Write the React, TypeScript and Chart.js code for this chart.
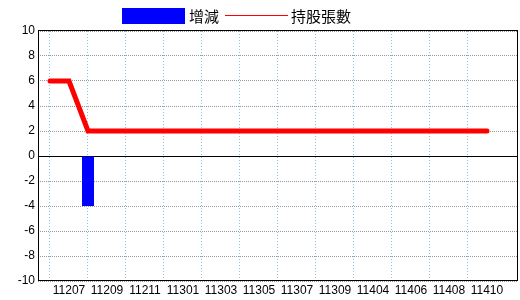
import { useEffect, useRef } from 'react';
import { Chart, registerables } from 'chart.js';

Chart.register(...registerables);

const months = [
  '11206', '11207', '11208', '11209', '11210', '11211', '11212',
  '11301', '11302', '11303', '11304', '11305', '11306', '11307', '11308', '11309', '11310',
  '11404', '11405', '11406', '11407', '11408', '11409', '11410',
];
const holdings = [6, 6, 2, 2, 2, 2, 2, 2, 2, 2, 2, 2, 2, 2, 2, 2, 2, 2, 2, 2, 2, 2, 2, 2];
const changes = [0, 0, -4, 0, 0, 0, 0, 0, 0, 0, 0, 0, 0, 0, 0, 0, 0, 0, 0, 0, 0, 0, 0, 0];
const seriesLabels = ['增減', '持股張數'];
const seriesColors = ['#0000ff', '#ff0000'];
const yMin = -10;
const yMax = 10;
const yStep = 2;

export default function App() {
  const ref = useRef<HTMLCanvasElement>(null);

  useEffect(() => {
    document.body.style.margin = '0';
    const canvas = ref.current;
    if (!canvas) return;

    const framePlugin = {
      id: 'frame',
      beforeDatasetsDraw(chart: any) {
        const { ctx, chartArea: a } = chart;
        ctx.save();
        ctx.strokeStyle = '#000';
        ctx.lineWidth = 1;
        ctx.setLineDash([]);
        ctx.strokeRect(
          Math.floor(a.left) + 0.5,
          Math.floor(a.top) - 0.5,
          Math.round(a.right - a.left),
          Math.round(a.bottom - a.top)
        );
        ctx.restore();
      },
    };

    const legendPlugin = {
      id: 'simpleLegend',
      afterDraw(chart: any) {
        const { ctx } = chart;
        ctx.save();
        ctx.setLineDash([]);
        ctx.globalAlpha = 1;
        ctx.font = '15px "Noto Sans CJK TC", sans-serif';
        ctx.textBaseline = 'middle';
        ctx.textAlign = 'left';
        const symW = 63;
        const w0 = ctx.measureText(seriesLabels[0]).width;
        const w1 = ctx.measureText(seriesLabels[1]).width;
        const total = symW + 4 + w0 + 6 + symW + 3 + w1;
        let x = Math.round(237 - total / 2);
        const cy = 16;
        ctx.fillStyle = seriesColors[0];
        ctx.fillRect(x, 8, symW, 16);
        x += symW + 4;
        ctx.fillStyle = '#000000';
        ctx.fillText(seriesLabels[0], x, cy);
        x = Math.round(x + w0 + 6);
        ctx.fillStyle = seriesColors[1];
        ctx.fillRect(x, 15, symW, 1);
        x += symW + 3;
        ctx.fillStyle = '#000000';
        ctx.fillText(seriesLabels[1], x, cy);
        ctx.restore();
      },
    };

    const chart = new Chart(canvas, {
      type: 'bar',
      data: {
        datasets: [
          {
            type: 'bar',
            label: seriesLabels[0],
            data: changes.map((v, i) => ({ x: i, y: v })),
            backgroundColor: seriesColors[0],
            borderColor: seriesColors[0],
            borderWidth: 0,
            inflateAmount: 0,
            barThickness: 12,
          } as any,
          {
            type: 'line',
            label: seriesLabels[1],
            data: holdings.map((v, i) => ({ x: i, y: v })),
            borderColor: seriesColors[1],
            backgroundColor: seriesColors[1],
            borderWidth: 5,
            pointRadius: 0,
            tension: 0,
            borderCapStyle: 'round',
            fill: false,
          } as any,
        ],
      },
      options: {
        responsive: false,
        animation: false,
        events: [],
        layout: { padding: { top: 31, right: 3, bottom: 0, left: 0 } },
        plugins: {
          tooltip: { enabled: false },
          legend: { display: false },
        },
        scales: {
          x: {
            type: 'linear',
            offset: false,
            min: -0.6316,
            max: 24.58,
            afterBuildTicks: (scale: any) => {
              scale.ticks = months.map((_, i) => ({ value: i }));
            },
            afterFit: (scale: any) => {
              scale.height = 19;
            },
            ticks: {
              autoSkip: false,
              maxRotation: 0,
              padding: 2,
              color: '#000',
              font: { family: '"Liberation Sans", sans-serif', size: 12 },
              callback: (v: any) => (Number(v) % 2 === 1 ? months[Number(v)] : ''),
            },
            grid: {
              offset: false,
              drawTicks: false,
              lineWidth: 1,
              color: (ctx: any) =>
                ctx.tick && ctx.tick.value % 2 === 0 ? '#8fc3e0' : 'rgba(0,0,0,0)',
            },
            border: {
              display: false,
              dash: (ctx: any) => (ctx.tick ? [1, 2] : []),
            },
          },
          y: {
            type: 'linear',
            min: yMin,
            max: yMax,
            afterFit: (scale: any) => {
              scale.width = 38;
            },
            ticks: {
              stepSize: yStep,
              padding: 3,
              color: '#000',
              font: { family: '"Liberation Sans", sans-serif', size: 12 },
            },
            grid: {
              drawTicks: false,
              lineWidth: 1,
              color: (ctx: any) =>
                ctx.tick && ctx.tick.value === 0 ? '#000000' : '#999999',
            },
            border: {
              display: false,
              dash: (ctx: any) => (ctx.tick && ctx.tick.value !== 0 ? [1, 1] : []),
            },
          },
        },
      },
      plugins: [framePlugin, legendPlugin],
    });

    return () => chart.destroy();
  }, []);

  return (
    <div style={{ width: 520, height: 300 }}>
      <canvas ref={ref} width={520} height={300} style={{ display: 'block' }} />
    </div>
  );
}
